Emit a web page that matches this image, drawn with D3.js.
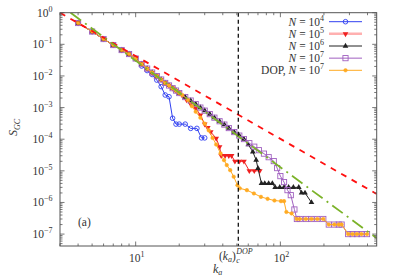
<!DOCTYPE html>
<html>
<head>
<meta charset="utf-8">
<script src="https://cdn.jsdelivr.net/npm/d3@7/dist/d3.min.js"></script>
<style>
  body { margin: 0; background: #fff; }
  svg { display: block; }
  text { font-family: "Liberation Serif", "DejaVu Serif", serif; fill: #333; }
</style>
</head>
<body>
<div id="chart"></div>
<script>
// degree k_a and S_GC
var kN4 = [4, 5, 6, 7, 8, 9, 10, 11, 12, 13, 14, 15, 16, 17, 18, 19, 20, 22, 24, 26.5, 28.5, 30];
var sN4 = [0.472, 0.254, 0.147, 0.095, 0.066, 0.0493, 0.0356, 0.0206, 0.0148, 0.0111, 0.0074, 0.0046, 0.0025, 0.0022, 4.6e-4, 3e-4, 3e-4, 3e-4, 2.2e-4, 2.2e-4, 1.1e-4, 1.1e-4];

var kN5 = [4, 5, 6, 7, 8, 9, 10, 11, 12, 13, 14, 15, 16, 17, 18, 19, 20, 21, 22.5, 24, 26, 28, 30, 31.5, 33, 36, 38, 39, 41.5, 44, 46, 48.5, 52, 56, 61, 66, 72];
var sN5 = [0.472, 0.254, 0.147, 0.095, 0.066, 0.0493, 0.0356, 0.0238, 0.0171, 0.0128, 0.0099, 0.0077, 0.006, 0.005, 0.0041, 0.00345, 0.00288, 2.4e-3, 1.73e-3, 1.29e-3, 9.6e-4, 5.8e-4, 3.0e-4, 2.3e-4, 1.7e-4, 1.06e-4, 5.75e-5, 3e-5, 3e-5, 3e-5, 3e-5, 2e-5, 2e-5, 2e-5, 1e-5, 1e-5, 1e-5];

var kN6 = [4, 5, 6, 7, 8, 9, 10, 11, 12, 13, 14, 15, 16, 17, 18, 19, 20, 22, 24, 26, 28, 30, 32.5, 35, 38, 41, 44, 48, 52, 56, 60, 64.5, 68, 70, 74, 78, 83, 88, 92, 99, 106, 114, 123, 134, 140, 148, 164];
var sN6 = [0.472, 0.254, 0.147, 0.095, 0.066, 0.0493, 0.0356, 0.0238, 0.0171, 0.0128, 0.0099, 0.0077, 0.006, 0.005, 0.0041, 0.00345, 0.00288, 0.00215, 0.00167, 0.00129, 0.0010, 8.0e-4, 6.2e-4, 4.8e-4, 3.7e-4, 2.9e-4, 2.25e-4, 1.68e-4, 1.3e-4, 1.01e-4, 6.8e-5, 4e-5, 2.2e-5, 1.2e-5, 4e-6, 4e-6, 4e-6, 4e-6, 3e-6, 3e-6, 3e-6, 3e-6, 3e-6, 3e-6, 2e-6, 2e-6, 1e-6];

var kN7 = [4, 5, 6, 7, 8, 9, 10, 11, 12, 13, 14, 15, 16, 17, 18, 19, 20, 22, 24, 26, 28, 30, 32.5, 35, 38, 41, 44, 48, 52, 56, 61, 66, 71, 77, 83, 90, 95, 100, 106, 112, 118, 125, 130, 136, 150, 164, 180, 198, 216, 236, 253, 265, 294, 315, 338, 363, 397];
var sN7 = [0.472, 0.254, 0.147, 0.095, 0.066, 0.0493, 0.0356, 0.0238, 0.0171, 0.0128, 0.0099, 0.0077, 0.006, 0.005, 0.0041, 0.00345, 0.00288, 0.00215, 0.00167, 0.00129, 0.0010, 8.0e-4, 6.2e-4, 4.8e-4, 3.7e-4, 2.9e-4, 2.25e-4, 1.68e-4, 1.3e-4, 1.01e-4, 7.5e-5, 5.8e-5, 4.5e-5, 3.5e-5, 2.7e-5, 2.03e-5, 1.22e-5, 6.8e-6, 4.4e-6, 2.45e-6, 1.7e-6, 6e-7, 3e-7, 3e-7, 3e-7, 3e-7, 3e-7, 3e-7, 2e-7, 2e-7, 2e-7, 2e-7, 1e-7, 1e-7, 1e-7, 1e-7, 1e-7];

var kDOP = [4, 5, 6, 7, 8, 9, 10, 11, 12, 13, 14, 15, 16, 17, 18, 19, 20, 21, 23, 24.5, 26, 28, 30, 32, 34, 36, 38.6, 40.8, 42.6, 45, 47.6, 50.5, 52.4, 58.7, 65.6, 73.4, 81.6, 91, 101, 106, 110, 119.5, 129.6, 136, 150, 164, 180, 198, 216, 236, 253, 265, 294, 315, 338, 363, 397];
var sDOP = [0.472, 0.254, 0.147, 0.095, 0.066, 0.0493, 0.0356, 0.0238, 0.0171, 0.0128, 0.0099, 0.0077, 0.006, 0.005, 0.0041, 0.00345, 0.00288, 2.5e-3, 1.73e-3, 1.1e-3, 7.4e-4, 4.8e-4, 3.1e-4, 1.9e-4, 1.1e-4, 6.8e-5, 3.56e-5, 2.18e-5, 1.52e-5, 1.05e-5, 6.5e-6, 3.5e-6, 2.8e-6, 2.45e-6, 1.93e-6, 1.5e-6, 1.3e-6, 1.15e-6, 1.1e-6, 1.1e-6, 5e-7, 4.5e-7, 3e-7, 3e-7, 3e-7, 3e-7, 3e-7, 3e-7, 2e-7, 2e-7, 2e-7, 2e-7, 1e-7, 1e-7, 1e-7, 1e-7, 1e-7];

// power-law guide lines (end points)
var fitRedK = [3, 463];
var fitRedS = [1, 1.85e-6];
var fitGreenK = [3.55, 463];
var fitGreenS = [1, 7.43e-8];

var kcDOP = 51.2;

var xTickValues = [10, 100];
var yTickValues = [1e-7, 1e-6, 1e-5, 1e-4, 1e-3, 1e-2, 1e-1, 1];
var legendNames = ["4", "5", "6", "7", "7"];

(function () {
    'use strict';

    var width = 399, height = 279;
    var mLeft = 60, mRight = 376.7, mTop = 12.7, mBottom = 246;

    var svg = d3.select("#chart").append("svg")
        .attr("width", width)
        .attr("height", height);

    var x = d3.scaleLog().domain([3, 463]).range([mLeft, mRight]);
    var y = d3.scaleLog().domain([4.2e-8, 1]).range([mBottom, mTop]);

    svg.append("clipPath").attr("id", "plotclip")
        .append("rect")
        .attr("x", mLeft).attr("y", mTop)
        .attr("width", mRight - mLeft).attr("height", mBottom - mTop);

    var plot = svg.append("g").attr("clip-path", "url(#plotclip)");

    var line = d3.line()
        .x(function (d) { return x(d[0]); })
        .y(function (d) { return y(d[1]); });

    function zip(ks, ss) {
        return ks.map(function (k, i) { return [k, ss[i]]; });
    }

    var series = [
        { k: kN4, s: sN4, color: "#3040f0", marker: "circle" },
        { k: kN5, s: sN5, color: "#f02020", marker: "tdown" },
        { k: kN6, s: sN6, color: "#222", marker: "tup" },
        { k: kN7, s: sN7, color: "#a060c0", marker: "square" },
        { k: kDOP, s: sDOP, color: "#ffaa22", marker: "dot" }
    ];

    function drawMarker(g, type, color, cx, cy) {
        if (type === "circle") {
            g.append("circle").attr("cx", cx).attr("cy", cy).attr("r", 2.3)
                .attr("fill", "none").attr("stroke", color).attr("stroke-width", 0.9);
        } else if (type === "dot") {
            g.append("circle").attr("cx", cx).attr("cy", cy).attr("r", 1.8)
                .attr("fill", color).attr("stroke", color).attr("stroke-width", 0.5);
        } else if (type === "square") {
            g.append("rect").attr("x", cx - 2.6).attr("y", cy - 2.6)
                .attr("width", 5.2).attr("height", 5.2)
                .attr("fill", "none").attr("stroke", color).attr("stroke-width", 0.9);
        } else {
            var sym = d3.symbol().type(d3.symbolTriangle).size(14);
            g.append("path").attr("d", sym())
                .attr("transform", "translate(" + cx + "," + cy + ")" + (type === "tdown" ? " rotate(180)" : ""))
                .attr("fill", color);
        }
    }

    series.forEach(function (sr) {
        var pts = zip(sr.k, sr.s);
        plot.append("path")
            .datum(pts)
            .attr("d", line)
            .attr("fill", "none")
            .attr("stroke", sr.color)
            .attr("stroke-width", 1);
        var mg = plot.append("g");
        pts.forEach(function (p) {
            drawMarker(mg, sr.marker, sr.color, x(p[0]), y(p[1]));
        });
    });

    // guide lines
    plot.append("path")
        .datum(zip(fitRedK, fitRedS))
        .attr("d", line)
        .attr("fill", "none")
        .attr("stroke", "#ff1010")
        .attr("stroke-width", 1.8)
        .attr("stroke-dasharray", "6,6");

    plot.append("path")
        .datum(zip(fitGreenK, fitGreenS))
        .attr("d", line)
        .attr("fill", "none")
        .attr("stroke", "#7cb32a")
        .attr("stroke-width", 1.8)
        .attr("stroke-dasharray", "13,5,2,5");

    plot.append("line")
        .attr("x1", x(kcDOP)).attr("x2", x(kcDOP))
        .attr("y1", mTop).attr("y2", mBottom)
        .attr("stroke", "#111")
        .attr("stroke-width", 1.3)
        .attr("stroke-dasharray", "4,3");

    // frame and ticks
    var axisColor = "#555";
    svg.append("rect")
        .attr("x", mLeft).attr("y", mTop)
        .attr("width", mRight - mLeft).attr("height", mBottom - mTop)
        .attr("fill", "none").attr("stroke", axisColor).attr("stroke-width", 1);

    var ticks = svg.append("g").attr("stroke", axisColor).attr("stroke-width", 0.8);

    var xMinor = [];
    [1, 10, 100].forEach(function (d) {
        for (var m = 2; m <= 9; m++) {
            var v = d * m;
            if (v >= 3 && v <= 463) xMinor.push(v);
        }
    });
    xMinor.forEach(function (v) {
        ticks.append("line").attr("x1", x(v)).attr("x2", x(v)).attr("y1", mBottom).attr("y2", mBottom - 2.5);
        ticks.append("line").attr("x1", x(v)).attr("x2", x(v)).attr("y1", mTop).attr("y2", mTop + 2.5);
    });
    xTickValues.forEach(function (v) {
        ticks.append("line").attr("x1", x(v)).attr("x2", x(v)).attr("y1", mBottom).attr("y2", mBottom - 4.5);
        ticks.append("line").attr("x1", x(v)).attr("x2", x(v)).attr("y1", mTop).attr("y2", mTop + 4.5);
    });

    var yMinor = [];
    [1e-8, 1e-7, 1e-6, 1e-5, 1e-4, 1e-3, 1e-2, 1e-1].forEach(function (d) {
        for (var m = 2; m <= 9; m++) {
            var v = d * m;
            if (v >= 4.2e-8 && v <= 1) yMinor.push(v);
        }
    });
    yMinor.forEach(function (v) {
        ticks.append("line").attr("x1", mLeft).attr("x2", mLeft + 2.5).attr("y1", y(v)).attr("y2", y(v));
        ticks.append("line").attr("x1", mRight).attr("x2", mRight - 2.5).attr("y1", y(v)).attr("y2", y(v));
    });
    yTickValues.forEach(function (v) {
        ticks.append("line").attr("x1", mLeft).attr("x2", mLeft + 4.5).attr("y1", y(v)).attr("y2", y(v));
        ticks.append("line").attr("x1", mRight).attr("x2", mRight - 4.5).attr("y1", y(v)).attr("y2", y(v));
    });

    // tick labels
    function powerLabel(g, base, exp, px, py, anchor) {
        var t = g.append("text")
            .attr("x", px).attr("y", py)
            .attr("text-anchor", anchor)
            .attr("font-size", 11.5);
        t.append("tspan").text(base);
        t.append("tspan").attr("dy", -5).attr("font-size", 8).text(exp);
        return t;
    }

    var labels = svg.append("g");
    yTickValues.forEach(function (v) {
        var e = Math.round(Math.log10(v));
        powerLabel(labels, "10", e < 0 ? "\u2212" + (-e) : String(e), 52.5, y(v) + 4, "end");
    });
    xTickValues.forEach(function (v) {
        var e = Math.round(Math.log10(v));
        powerLabel(labels, "10", String(e), x(v) + 1, 262, "middle");
    });

    // (k_a)_c^DOP under the dashed line
    var kcX = 219;
    var kc = svg.append("g");
    var kcMain = kc.append("text").attr("x", kcX).attr("y", 260).attr("font-size", 11.5);
    kcMain.append("tspan").text("(");
    kcMain.append("tspan").attr("font-style", "italic").text("k");
    kcMain.append("tspan").attr("dy", 2).attr("font-size", 8).attr("font-style", "italic").text("a");
    kcMain.append("tspan").attr("dy", -2).text(")");
    var kcW = kcMain.node().getComputedTextLength();
    kc.append("text").attr("x", kcX + kcW + 0.5).attr("y", 262.5).attr("font-size", 8)
        .attr("font-style", "italic").text("c");
    kc.append("text").attr("x", kcX + kcW + 0.5).attr("y", 254).attr("font-size", 8)
        .attr("font-style", "italic").text("DOP");

    // axis titles
    var xt = svg.append("text").attr("x", 213).attr("y", 273).attr("font-size", 12);
    xt.append("tspan").attr("font-style", "italic").text("k");
    xt.append("tspan").attr("dy", 2).attr("font-size", 8).attr("font-style", "italic").text("a");

    var yt = svg.append("text")
        .attr("transform", "translate(17,136) rotate(-90)")
        .attr("font-size", 12);
    yt.append("tspan").attr("font-style", "italic").text("S");
    yt.append("tspan").attr("dy", 2.5).attr("font-size", 8).attr("font-style", "italic").text("GC");

    svg.append("text").attr("x", 78).attr("y", 226).attr("font-size", 11.5).text("(a)");

    // legend
    var legend = svg.append("g");
    series.forEach(function (sr, i) {
        var cy = 21.7 + i * 12.15;
        var t = legend.append("text").attr("x", 324).attr("y", cy + 4).attr("text-anchor", "end").attr("font-size", 11.5);
        if (i === 4) t.append("tspan").text("DOP, ");
        t.append("tspan").attr("font-style", "italic").text("N");
        t.append("tspan").text(" = 10");
        t.append("tspan").attr("dy", -5).attr("font-size", 8).text(legendNames[i]);
        legend.append("line")
            .attr("x1", 329).attr("x2", 362)
            .attr("y1", cy).attr("y2", cy)
            .attr("stroke", i === 1 ? "#ffb0b0" : sr.color)
            .attr("stroke-width", i === 1 ? 2.5 : 1);
        drawMarker(legend, sr.marker, sr.color, 345.5, cy);
    });
})();
</script>
</body>
</html>
